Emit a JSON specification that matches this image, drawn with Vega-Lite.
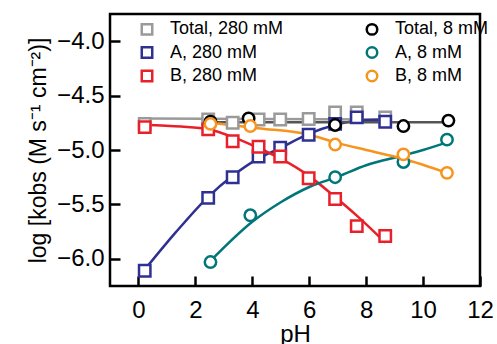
{
  "$schema": "https://vega.github.io/schema/vega-lite/v6.json",
  "autosize": {"type": "none"},
  "padding": {"left": 110, "top": 14, "right": 17, "bottom": 58},
  "width": 370,
  "height": 272,
  "background": "white",
  "config": {
    "view": {"stroke": "black", "strokeWidth": 2.5},
    "axis": {
      "labelFont": "Liberation Sans",
      "titleFont": "Liberation Sans",
      "labelFontSize": 24,
      "titleFontSize": 24,
      "titleFontWeight": "normal",
      "labelColor": "black",
      "titleColor": "black",
      "tickColor": "black",
      "tickWidth": 2.5,
      "tickSize": -10,
      "domain": false,
      "grid": false,
      "labelFlush": false
    },
    "legend": {
      "labelFont": "Liberation Sans",
      "labelFontSize": 18
    }
  },
  "data": {
    "values": [
      {"series": "Total, 280 mM", "kind": "pt", "pH": 0.22, "logk": -4.76},
      {"series": "Total, 280 mM", "kind": "pt", "pH": 2.45, "logk": -4.72},
      {"series": "Total, 280 mM", "kind": "pt", "pH": 3.31, "logk": -4.75},
      {"series": "Total, 280 mM", "kind": "pt", "pH": 4.22, "logk": -4.72},
      {"series": "Total, 280 mM", "kind": "pt", "pH": 4.98, "logk": -4.72},
      {"series": "Total, 280 mM", "kind": "pt", "pH": 5.98, "logk": -4.715},
      {"series": "Total, 280 mM", "kind": "pt", "pH": 6.91, "logk": -4.655},
      {"series": "Total, 280 mM", "kind": "pt", "pH": 7.67, "logk": -4.655},
      {"series": "Total, 280 mM", "kind": "pt", "pH": 8.67, "logk": -4.70},
      {"series": "A, 280 mM", "kind": "pt", "pH": 0.22, "logk": -6.11},
      {"series": "A, 280 mM", "kind": "pt", "pH": 2.45, "logk": -5.44},
      {"series": "A, 280 mM", "kind": "pt", "pH": 3.31, "logk": -5.25},
      {"series": "A, 280 mM", "kind": "pt", "pH": 4.22, "logk": -5.06},
      {"series": "A, 280 mM", "kind": "pt", "pH": 4.98, "logk": -4.98},
      {"series": "A, 280 mM", "kind": "pt", "pH": 5.98, "logk": -4.86},
      {"series": "A, 280 mM", "kind": "pt", "pH": 6.91, "logk": -4.76},
      {"series": "A, 280 mM", "kind": "pt", "pH": 7.67, "logk": -4.70},
      {"series": "A, 280 mM", "kind": "pt", "pH": 8.67, "logk": -4.74},
      {"series": "B, 280 mM", "kind": "pt", "pH": 0.22, "logk": -4.79},
      {"series": "B, 280 mM", "kind": "pt", "pH": 2.45, "logk": -4.81},
      {"series": "B, 280 mM", "kind": "pt", "pH": 3.31, "logk": -4.92},
      {"series": "B, 280 mM", "kind": "pt", "pH": 4.22, "logk": -4.97},
      {"series": "B, 280 mM", "kind": "pt", "pH": 4.98, "logk": -5.06},
      {"series": "B, 280 mM", "kind": "pt", "pH": 5.98, "logk": -5.26},
      {"series": "B, 280 mM", "kind": "pt", "pH": 6.91, "logk": -5.45},
      {"series": "B, 280 mM", "kind": "pt", "pH": 7.67, "logk": -5.70},
      {"series": "B, 280 mM", "kind": "pt", "pH": 8.67, "logk": -5.79},
      {"series": "Total, 8 mM", "kind": "pt", "pH": 2.53, "logk": -4.74},
      {"series": "Total, 8 mM", "kind": "pt", "pH": 3.87, "logk": -4.71},
      {"series": "Total, 8 mM", "kind": "pt", "pH": 6.91, "logk": -4.77},
      {"series": "Total, 8 mM", "kind": "pt", "pH": 9.31, "logk": -4.78},
      {"series": "Total, 8 mM", "kind": "pt", "pH": 10.89, "logk": -4.73},
      {"series": "A, 8 mM", "kind": "pt", "pH": 2.53, "logk": -6.03},
      {"series": "A, 8 mM", "kind": "pt", "pH": 3.93, "logk": -5.60},
      {"series": "A, 8 mM", "kind": "pt", "pH": 6.91, "logk": -5.25},
      {"series": "A, 8 mM", "kind": "pt", "pH": 9.31, "logk": -5.11},
      {"series": "A, 8 mM", "kind": "pt", "pH": 10.84, "logk": -4.905},
      {"series": "B, 8 mM", "kind": "pt", "pH": 2.53, "logk": -4.76},
      {"series": "B, 8 mM", "kind": "pt", "pH": 3.93, "logk": -4.78},
      {"series": "B, 8 mM", "kind": "pt", "pH": 6.91, "logk": -4.95},
      {"series": "B, 8 mM", "kind": "pt", "pH": 9.31, "logk": -5.04},
      {"series": "B, 8 mM", "kind": "pt", "pH": 10.84, "logk": -5.21},

      {"series": "Total, 280 mM", "kind": "fit", "pH": 0.22, "logk": -4.71},
      {"series": "Total, 280 mM", "kind": "fit", "pH": 8.67, "logk": -4.72},
      {"series": "A, 280 mM", "kind": "fit", "pH": 0.22, "logk": -6.10},
      {"series": "A, 280 mM", "kind": "fit", "pH": 1.3, "logk": -5.76},
      {"series": "A, 280 mM", "kind": "fit", "pH": 2.45, "logk": -5.43},
      {"series": "A, 280 mM", "kind": "fit", "pH": 3.3, "logk": -5.24},
      {"series": "A, 280 mM", "kind": "fit", "pH": 4.2, "logk": -5.08},
      {"series": "A, 280 mM", "kind": "fit", "pH": 5.0, "logk": -4.98},
      {"series": "A, 280 mM", "kind": "fit", "pH": 6.0, "logk": -4.85},
      {"series": "A, 280 mM", "kind": "fit", "pH": 6.9, "logk": -4.77},
      {"series": "A, 280 mM", "kind": "fit", "pH": 7.7, "logk": -4.73},
      {"series": "A, 280 mM", "kind": "fit", "pH": 8.67, "logk": -4.72},
      {"series": "B, 280 mM", "kind": "fit", "pH": 0.22, "logk": -4.77},
      {"series": "B, 280 mM", "kind": "fit", "pH": 1.5, "logk": -4.785},
      {"series": "B, 280 mM", "kind": "fit", "pH": 2.45, "logk": -4.81},
      {"series": "B, 280 mM", "kind": "fit", "pH": 3.3, "logk": -4.88},
      {"series": "B, 280 mM", "kind": "fit", "pH": 4.2, "logk": -4.98},
      {"series": "B, 280 mM", "kind": "fit", "pH": 5.0, "logk": -5.08},
      {"series": "B, 280 mM", "kind": "fit", "pH": 6.0, "logk": -5.24},
      {"series": "B, 280 mM", "kind": "fit", "pH": 6.9, "logk": -5.43},
      {"series": "B, 280 mM", "kind": "fit", "pH": 7.7, "logk": -5.61},
      {"series": "B, 280 mM", "kind": "fit", "pH": 8.67, "logk": -5.85},
      {"series": "Total, 8 mM", "kind": "fit", "pH": 2.53, "logk": -4.745},
      {"series": "Total, 8 mM", "kind": "fit", "pH": 10.89, "logk": -4.745},
      {"series": "A, 8 mM", "kind": "fit", "pH": 2.53, "logk": -6.02},
      {"series": "A, 8 mM", "kind": "fit", "pH": 4.0, "logk": -5.66},
      {"series": "A, 8 mM", "kind": "fit", "pH": 5.0, "logk": -5.48},
      {"series": "A, 8 mM", "kind": "fit", "pH": 6.0, "logk": -5.34},
      {"series": "A, 8 mM", "kind": "fit", "pH": 7.0, "logk": -5.245},
      {"series": "A, 8 mM", "kind": "fit", "pH": 8.0, "logk": -5.14},
      {"series": "A, 8 mM", "kind": "fit", "pH": 9.3, "logk": -5.05},
      {"series": "A, 8 mM", "kind": "fit", "pH": 10.0, "logk": -5.0},
      {"series": "A, 8 mM", "kind": "fit", "pH": 10.84, "logk": -4.93},
      {"series": "B, 8 mM", "kind": "fit", "pH": 2.53, "logk": -4.75},
      {"series": "B, 8 mM", "kind": "fit", "pH": 4.2, "logk": -4.80},
      {"series": "B, 8 mM", "kind": "fit", "pH": 6.0, "logk": -4.86},
      {"series": "B, 8 mM", "kind": "fit", "pH": 6.91, "logk": -4.93},
      {"series": "B, 8 mM", "kind": "fit", "pH": 8.0, "logk": -5.0},
      {"series": "B, 8 mM", "kind": "fit", "pH": 9.3, "logk": -5.08},
      {"series": "B, 8 mM", "kind": "fit", "pH": 10.84, "logk": -5.21}
    ]
  },
  "encoding": {
    "x": {
      "field": "pH", "type": "quantitative",
      "scale": {"domain": [-1, 12], "nice": false, "zero": false},
      "axis": {"values": [0, 2, 4, 6, 8, 10, 12], "title": "pH", "labelPadding": 22, "titlePadding": 0}
    },
    "y": {
      "field": "logk", "type": "quantitative",
      "scale": {"domain": [-6.25, -3.75], "nice": false, "zero": false},
      "axis": {"values": [-6, -5.5, -5, -4.5, -4], "format": ".1f", "title": "log [kobs (M s⁻¹ cm⁻²)]", "titleFontSize": 23, "labelPadding": 16, "titlePadding": 6}
    }
  },
  "layer": [
    {
      "transform": [{"filter": "datum.kind === 'fit'"}],
      "mark": {"type": "line", "interpolate": "monotone", "strokeWidth": 2.5},
      "encoding": {
        "color": {
          "field": "series", "type": "nominal",
          "scale": {
            "domain": ["A, 280 mM", "A, 8 mM", "B, 280 mM", "B, 8 mM", "Total, 280 mM", "Total, 8 mM"],
            "range": ["#2e3192", "#00767a", "#e8202a", "#f7941d", "#9a9a9a", "#555555"]
          },
          "legend": null
        },
        "detail": {"field": "series"}
      }
    },
    {
      "transform": [{"filter": "datum.kind === 'pt'"}],
      "mark": {"type": "point", "filled": false, "fill": "white", "fillOpacity": 1, "strokeWidth": 2.5, "size": 130, "opacity": 1},
      "encoding": {
        "stroke": {
          "field": "series", "type": "nominal",
          "scale": {
            "domain": ["Total, 280 mM", "A, 280 mM", "B, 280 mM", "Total, 8 mM", "A, 8 mM", "B, 8 mM"],
            "range": ["#9a9a9a", "#2e3192", "#e8202a", "#000000", "#00767a", "#f7941d"]
          },
          "legend": {
            "title": null,
            "orient": "none",
            "legendX": 28,
            "legendY": 6,
            "columns": 2,
            "columnPadding": 77,
            "rowPadding": 1.5,
            "padding": 0,
            "symbolSize": 110,
            "symbolStrokeWidth": 2.5,
            "symbolFillColor": "white",
            "labelOffset": 14,
            "labelFontSize": 18,
            "encode": {
              "labels": {"update": {"fill": {"scale": "stroke", "field": "value"}}}
            }
          }
        },
        "shape": {
          "field": "series", "type": "nominal",
          "scale": {
            "domain": ["Total, 280 mM", "A, 280 mM", "B, 280 mM", "Total, 8 mM", "A, 8 mM", "B, 8 mM"],
            "range": ["square", "square", "square", "circle", "circle", "circle"]
          }
        }
      }
    }
  ]
}
